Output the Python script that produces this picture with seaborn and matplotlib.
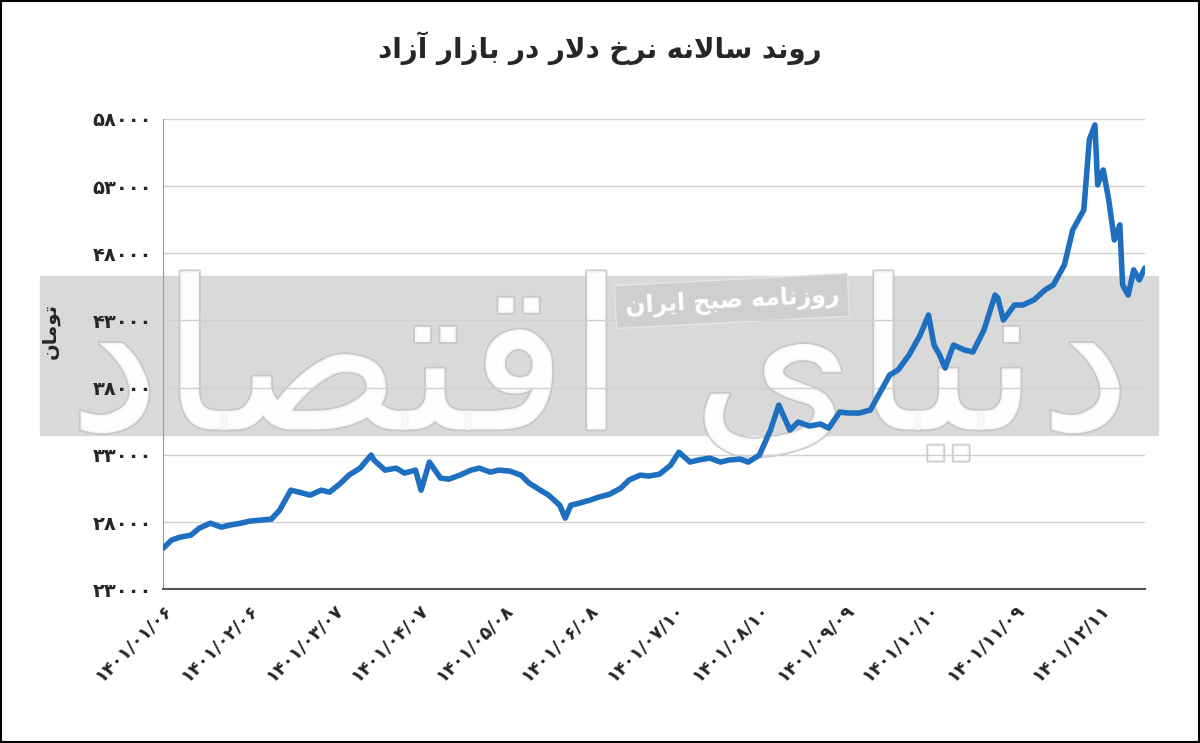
import numpy as np
import pandas as pd
import matplotlib
matplotlib.use("Agg")
import matplotlib.pyplot as plt
import matplotlib.patheffects as pe
from matplotlib.patches import Rectangle
import seaborn as sns

# ---- data ----
days = [0, 3, 6, 10, 13, 17, 21, 24, 28, 31, 35, 39, 42, 46, 49, 53, 57, 60, 64, 67, 71, 75,
        76, 80, 84, 87, 91, 93,
        96, 100, 103, 107, 111, 114, 118, 121, 125, 129, 132, 136, 139, 143,
        145, 147,
        150, 154, 157, 161, 165, 168, 172, 175, 179, 183,
        186, 190, 193, 197, 201, 204, 208, 211, 215, 219,
        222, 226, 229, 233, 237, 240, 244, 247, 251, 255,
        258, 262, 265, 269, 273, 276,
        278, 280, 282, 283, 285, 289, 292, 296, 300, 301, 303, 307, 310, 314, 318, 321,
        325, 328, 332, 334, 336, 337, 339, 341, 343, 345, 346, 348, 350, 352, 354]
rate = [26050, 26650, 26870, 27020, 27540, 27910, 27620, 27770, 27910, 28060, 28140, 28210,
        28880, 30370, 30220, 30000, 30370, 30220, 30890, 31490, 32010, 32980,
        32610, 31860, 32010, 31640, 31860, 30370,
        32460, 31270, 31190, 31490, 31860, 32010, 31710, 31860, 31790, 31490, 30890, 30370,
        30000, 29250,
        28290, 29250,
        29400, 29630, 29850, 30070, 30520, 31120, 31490, 31420, 31560, 32230,
        33200, 32460, 32610, 32760, 32460, 32610, 32680, 32460, 32980, 34840,
        36700, 34840, 35440, 35140, 35290, 34990, 36180, 36110, 36110, 36330,
        37450, 38940, 39310, 40430, 41920, 43400,
        41170, 40430, 39460, 40050, 41170, 40800, 40650, 42290, 44890, 44670, 43030, 44150,
        44150, 44520, 45270, 45640,
        47130, 49730, 51220, 56440, 57550, 53090, 54200, 51970, 48990, 50110, 45640, 44890,
        46760, 46010, 46900]

y_ticks = [23000, 28000, 33000, 38000, 43000, 48000, 53000, 58000]
x_labels = ["۱۴۰۱/۰۱/۰۶", "۱۴۰۱/۰۲/۰۶", "۱۴۰۱/۰۳/۰۷", "۱۴۰۱/۰۴/۰۷", "۱۴۰۱/۰۵/۰۸", "۱۴۰۱/۰۶/۰۸",
            "۱۴۰۱/۰۷/۱۰", "۱۴۰۱/۰۸/۱۰", "۱۴۰۱/۰۹/۰۹", "۱۴۰۱/۱۰/۱۰", "۱۴۰۱/۱۱/۰۹", "۱۴۰۱/۱۲/۱۱"]
title = "روند سالانه نرخ دلار در بازار آزاد"
y_label = "تومان"
stamp = "روزنامه صبح ایران"
watermark = "دنیای اقتصاد"

# ---- tiny Persian shaper (matplotlib has no bidi / joining) ----
FORMS = {  # iso, fin, ini, med
    "ا": (0xFE8D, 0xFE8E), "آ": (0xFE81, 0xFE82), "د": (0xFEA9, 0xFEAA),
    "ر": (0xFEAD, 0xFEAE), "ز": (0xFEAF, 0xFEB0), "و": (0xFEED, 0xFEEE),
    "ب": (0xFE8F, 0xFE90, 0xFE91, 0xFE92), "ت": (0xFE95, 0xFE96, 0xFE97, 0xFE98),
    "ح": (0xFEA1, 0xFEA2, 0xFEA3, 0xFEA4), "خ": (0xFEA5, 0xFEA6, 0xFEA7, 0xFEA8),
    "س": (0xFEB1, 0xFEB2, 0xFEB3, 0xFEB4), "ص": (0xFEB9, 0xFEBA, 0xFEBB, 0xFEBC),
    "ق": (0xFED5, 0xFED6, 0xFED7, 0xFED8), "ل": (0xFEDD, 0xFEDE, 0xFEDF, 0xFEE0),
    "م": (0xFEE1, 0xFEE2, 0xFEE3, 0xFEE4), "ن": (0xFEE5, 0xFEE6, 0xFEE7, 0xFEE8),
    "ه": (0xFEE9, 0xFEEA, 0xFEEB, 0xFEEC), "ی": (0xFEEF, 0xFEF0, 0xFEF3, 0xFEF4),
}


def shape(text):
    chars = []
    i = 0
    while i < len(text):  # lam-alef ligature
        if text[i] == "ل" and i + 1 < len(text) and text[i + 1] in "اآ":
            chars.append("LA")
            i += 2
        else:
            chars.append(text[i])
            i += 1

    def dual(c):
        return c in FORMS and len(FORMS[c]) == 4

    out = []
    for k, c in enumerate(chars):
        prev = chars[k - 1] if k > 0 else " "
        nxt = chars[k + 1] if k + 1 < len(chars) else " "
        jp = dual(prev)
        if c == "LA":
            out.append(chr(0xFEFC if jp else 0xFEFB))
            continue
        if c not in FORMS:
            out.append(c)
            continue
        f = FORMS[c]
        jn = len(f) == 4 and (nxt in FORMS or nxt == "LA")
        if jp and jn:
            out.append(chr(f[3]))
        elif jn:
            out.append(chr(f[2]))
        elif jp:
            out.append(chr(f[1]))
        else:
            out.append(chr(f[0]))
    return "".join(out)[::-1]


def fa_digits(n):
    return str(n).translate(str.maketrans("0123456789", "۰۱۲۳۴۵۶۷۸۹"))


df = pd.DataFrame({"day": days, "rate": rate})

sns.set_style("white")
plt.rcParams["font.family"] = ["DejaVu Sans"]

fig = plt.figure(figsize=(12, 7.43), dpi=100)
ax = fig.add_axes([0.136, 0.207, 0.818, 0.633])
ax.patch.set_alpha(0)

# grey band behind everything
fig.add_artist(Rectangle((40 / 1200, 1 - 435 / 743), 1118 / 1200, 159 / 743,
                         transform=fig.transFigure, color="#d9d9d9", zorder=-2))
fig.add_artist(Rectangle((0.001, 0.001), 0.998, 0.998, transform=fig.transFigure,
                         fill=False, edgecolor="black", lw=1.5, zorder=5))

# outlined watermark
fig.text(0.50, 0.50, shape(watermark), fontsize=150, color="white", alpha=0.85,
         ha="center", va="center", zorder=-1,
         path_effects=[pe.withStroke(linewidth=2.5, foreground="#c4c4c4")])
fig.text(0.61, 0.595, shape(stamp), fontsize=17, fontweight="bold", color="white",
         ha="center", va="center", rotation=3, zorder=-1,
         bbox=dict(boxstyle="square,pad=0.4", fc="#cfcfcf", ec="#e6e6e6"))

sns.lineplot(data=df, x="day", y="rate", ax=ax, color="#1f6fc0", lw=4, zorder=3)

ax.set_ylim(23000, 58000)
ax.set_xlim(0, 354)
ax.set_yticks(y_ticks)
ax.set_yticklabels([fa_digits(v) for v in y_ticks], fontsize=14, fontweight="bold")
ax.set_xticks(np.linspace(0, 338, len(x_labels)))
ax.set_xticklabels(x_labels, rotation=45, ha="right", rotation_mode="anchor",
                   fontsize=13, fontweight="bold")
ax.tick_params(axis="both", length=0, pad=8)
ax.grid(axis="y", color="#d0d0d0", lw=1)
ax.set_xlabel("")
ax.set_ylabel(shape(y_label), fontsize=14, fontweight="bold")
ax.yaxis.set_label_coords(-0.105, 0.55)
for s in ["top", "right"]:
    ax.spines[s].set_visible(False)
ax.spines["left"].set_color("#999999")
ax.spines["bottom"].set_color("#555555")
ax.spines["bottom"].set_linewidth(1.5)

fig.text(0.5, 0.935, shape(title), fontsize=20, fontweight="bold", ha="center", va="center")

fig.savefig("out.png", dpi=100)
